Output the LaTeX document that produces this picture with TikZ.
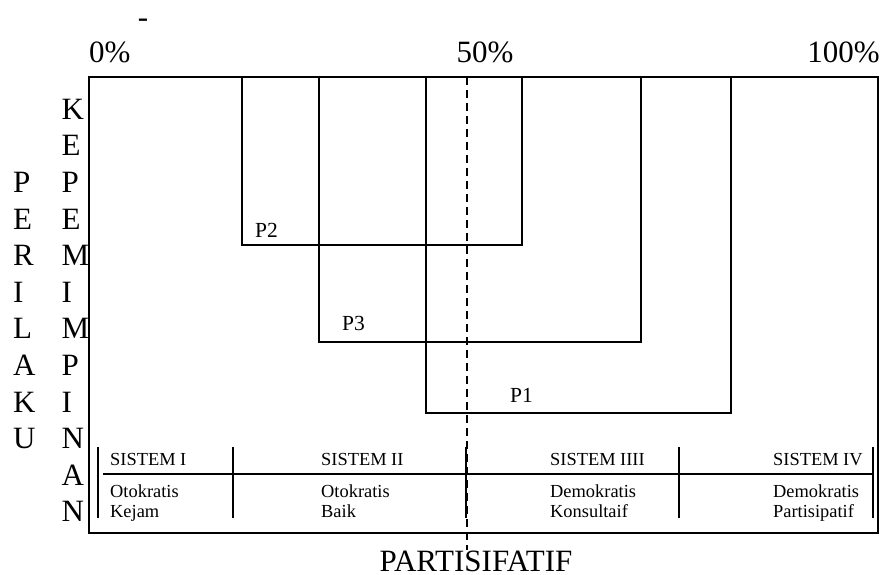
\documentclass[tikz,border=0pt]{standalone}
\usepackage{fontspec}
\setmainfont{Liberation Serif}
\begin{document}
\begin{tikzpicture}[x=1pt,y=-1pt,
  big/.style={font=\fontsize{31}{36.6}\selectfont, inner sep=0pt},
  lbl/.style={font=\fontsize{21.5}{25}\selectfont, inner sep=0pt, anchor=base west},
  cell/.style={font=\fontsize{18.4}{20.6}\selectfont, inner sep=0pt, anchor=base west},
  frame/.style={line width=1.5pt},
  box/.style={line width=1.2pt},
  grid/.style={line width=1.5pt},
  mid/.style={line width=1.2pt, dash pattern=on 8pt off 5pt},
]
\useasboundingbox (0,0) rectangle (883,574);

% scale labels above the frame
\node[big, anchor=base] (dash) at (143,27) {-};
\node[big, anchor=base west] (p0) at (89,62) {0\%};
\node[big, anchor=base] (p50) at (485,62) {50\%};
\node[big, anchor=base east] (p100) at (880,62) {100\%};

% vertical axis titles
\node[big, anchor=north west, align=left] (perilaku) at (13,172)
  {P\\E\\R\\I\\L\\A\\K\\U};
\node[big, anchor=north west, align=left] (kepemimpinan) at (61.5,98.8)
  {K\\E\\P\\E\\M\\I\\M\\P\\I\\N\\A\\N};

% outer frame
\coordinate (fTL) at (89,77);
\coordinate (fBR) at (878,533);
\draw[frame] (fTL) rectangle (fBR);

% the three leader profiles
\coordinate (p2a) at (242,77);  \coordinate (p2b) at (522,245);
\coordinate (p3a) at (319,77);  \coordinate (p3b) at (641,342);
\coordinate (p1a) at (426,77);  \coordinate (p1b) at (731,413);
\draw[box] (p2a) rectangle (p2b);
\draw[box] (p3a) rectangle (p3b);
\draw[box] (p1a) rectangle (p1b);
\node[lbl] (lp2) at (255,237) {P2};
\node[lbl] (lp3) at (342,330) {P3};
\node[lbl] (lp1) at (510,402) {P1};

% table of the four systems
\coordinate (hL) at (103,474);
\coordinate (hR) at (873,474);
\draw[grid] (hL) -- (hR);
\foreach \x/\n in {98/s0,233/s1,466/s2,679/s3,873/s4}{
  \coordinate (\n t) at (\x,447);
  \coordinate (\n b) at (\x,518);
  \draw[grid] (\n t) -- (\n b);
}
\node[cell] (h1) at (110,465.5) {SISTEM I};
\node[cell] (a1) at (110,497) {Otokratis};
\node[cell] (b1) at (110,517.5) {Kejam};
\node[cell] (h2) at (321,465.5) {SISTEM II};
\node[cell] (a2) at (321,497) {Otokratis};
\node[cell] (b2) at (321,517.5) {Baik};
\node[cell] (h3) at (550,465.5) {SISTEM IIII};
\node[cell] (a3) at (550,497) {Demokratis};
\node[cell] (b3) at (550,517.5) {Konsultaif};
\node[cell] (h4) at (773,465.5) {SISTEM IV};
\node[cell] (a4) at (773,497) {Demokratis};
\node[cell] (b4) at (773,517.5) {Partisipatif};

% 50% divider and its caption
\node[big, anchor=base] (part) at (476,571) {PARTISIFATIF};
\coordinate (dTop) at (467,77);
\draw[mid] (dTop) -- (part.north -| dTop);
\end{tikzpicture}
\end{document}
